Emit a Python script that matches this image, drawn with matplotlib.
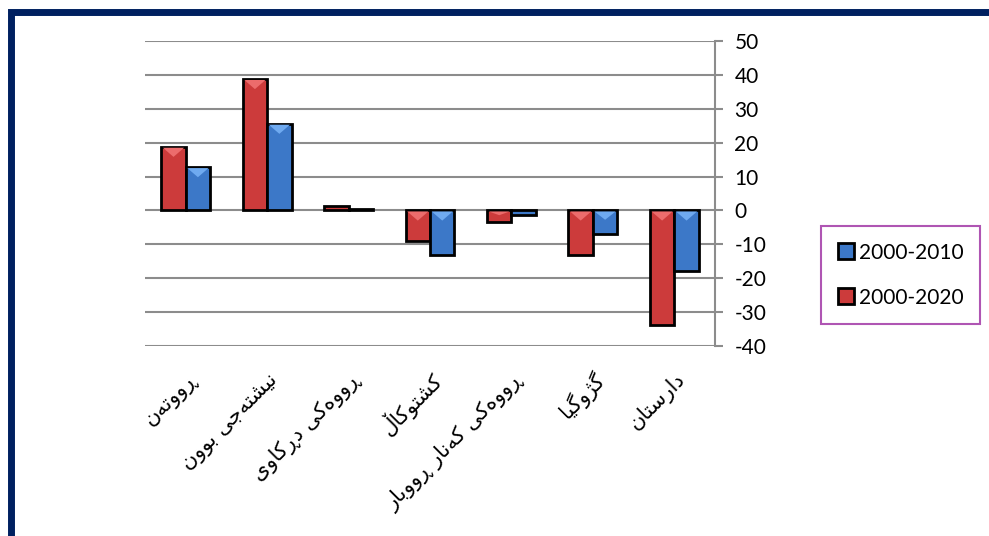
import matplotlib
matplotlib.use("Agg")
import matplotlib.pyplot as plt
import numpy as np
from matplotlib import font_manager
from matplotlib.ft2font import FT2Font
from matplotlib.patches import Rectangle, Polygon
from matplotlib.transforms import ScaledTranslation

# land cover classes (Sorani Kurdish), in chart order
categories = ["ڕووتەن", "نیشتەجێ بوون", "ڕووەکی دڕکاوی", "کشتوکاڵ",
              "ڕووەکی کەنار ڕووبار", "گژوگیا", "دارستان"]
change_2000_2020 = [18.8, 38.8, 1.4, -9.1, -3.5, -13.2, -33.7]
change_2000_2010 = [12.8, 25.6, 0.5, -13.1, -1.3, -6.9, -17.9]
series_names = ["2000-2010", "2000-2020"]
y_ticks = [50, 40, 30, 20, 10, 0, -10, -20, -30, -40]

# matplotlib does no arabic shaping, so pick the joined forms by hand
FORMS = {
    '\u0627': ('\uFE8D', '\uFE8E', None, None),
    '\u0628': ('\uFE8F', '\uFE90', '\uFE91', '\uFE92'),
    '\u062A': ('\uFE95', '\uFE96', '\uFE97', '\uFE98'),
    '\u062C': ('\uFE9D', '\uFE9E', '\uFE9F', '\uFEA0'),
    '\u062F': ('\uFEA9', '\uFEAA', None, None),
    '\u0631': ('\uFEAD', '\uFEAE', None, None),
    '\u0633': ('\uFEB1', '\uFEB2', '\uFEB3', '\uFEB4'),
    '\u0634': ('\uFEB5', '\uFEB6', '\uFEB7', '\uFEB8'),
    '\u0646': ('\uFEE5', '\uFEE6', '\uFEE7', '\uFEE8'),
    '\u0648': ('\uFEED', '\uFEEE', None, None),
    '\u0695': ('\u0695', '\u0695', None, None),
    '\u0698': ('\uFB8A', '\uFB8B', None, None),
    '\u06A9': ('\uFB8E', '\uFB8F', '\uFB90', '\uFB91'),
    '\u06AF': ('\uFB92', '\uFB93', '\uFB94', '\uFB95'),
    '\u06B5': ('\u06B5', '\u06B5', '\u06B5', '\u06B5'),
    '\u06CC': ('\uFBFC', '\uFBFD', '\uFBFE', '\uFBFF'),
    '\u06CE': ('\u06CE', '\uFBFD', '\uFBFE', '\uFBFF'),
    '\u06D5': ('\u06D5', '\uFEEA', None, None),
}

arabic_font = font_manager.findfont("DejaVu Sans")
ft = FT2Font(arabic_font)


def has_glyph(ch):
    return ft.get_char_index(ord(ch)) != 0


def shape(text):
    out = []
    n = len(text)
    for i, c in enumerate(text):
        if c not in FORMS:
            out.append(c)
            continue
        prev = text[i - 1] if i > 0 else ' '
        nxt = text[i + 1] if i < n - 1 else ' '
        join_prev = prev in FORMS and FORMS[prev][2] is not None
        join_next = FORMS[c][2] is not None and nxt in FORMS
        iso, fin, ini, med = FORMS[c]
        if join_prev and join_next:
            g = med
        elif join_prev:
            g = fin
        elif join_next:
            g = ini
        else:
            g = iso
        if not has_glyph(g):
            g = c
        out.append(g)
    return ''.join(reversed(out))


plt.rcParams['font.family'] = ['Lato', 'DejaVu Sans']
plt.rcParams['axes.unicode_minus'] = False

fig = plt.figure(figsize=(9.89, 5.36), dpi=100)
ax = fig.add_axes([0.1466, 0.3545, 0.5764, 0.569])

x = np.arange(len(categories))
w = 0.3
b20 = ax.bar(x - w / 2, change_2000_2020, w, color='#CC3B3B', edgecolor='black',
             linewidth=2, zorder=3, label=series_names[1])
b10 = ax.bar(x + w / 2, change_2000_2010, w, color='#3C78C8', edgecolor='black',
             linewidth=2, zorder=3, label=series_names[0])

# small light bevel at the top of each bar, like the office style
for bars, light in [(b20, '#EC6C6C'), (b10, '#6FAAF0')]:
    for r in bars:
        h = abs(r.get_height())
        if h < 2:
            continue
        top = max(r.get_y(), r.get_y() + r.get_height())
        x0, bw = r.get_x(), r.get_width()
        tri = Polygon([(x0 + 0.02, top - 0.3), (x0 + bw - 0.02, top - 0.3),
                       (x0 + bw / 2, top - min(3.0, h * 0.4))],
                      closed=True, facecolor=light, edgecolor='none', zorder=4)
        ax.add_patch(tri)

ax.set_xlim(-0.5, len(categories) - 0.5)
ax.set_ylim(-40, 50)
ax.set_yticks(y_ticks)
ax.yaxis.tick_right()
ax.tick_params(axis='y', direction='out', length=6, width=1.5, color='#8c8c8c',
               labelsize=15, pad=8)
ax.grid(axis='y', color='#8c8c8c', linewidth=1.5, zorder=0)

for s in ['top', 'left', 'bottom']:
    ax.spines[s].set_visible(False)
ax.spines['right'].set_color('#8c8c8c')
ax.spines['right'].set_linewidth(1.5)

ax.set_xticks(x)
ax.set_xticklabels([shape(c) for c in categories], rotation=45, ha='right',
                   va='center', rotation_mode='anchor', fontsize=15,
                   family='DejaVu Sans')
ax.tick_params(axis='x', length=0, pad=22)
for lab in ax.get_xticklabels():
    lab.set_transform(lab.get_transform() + ScaledTranslation(0.08, 0, fig.dpi_scale_trans))

leg = fig.legend([b10, b20], series_names, loc='upper left',
                 bbox_to_anchor=(821 / 989, 1 - 226 / 536), borderaxespad=0,
                 frameon=True, fancybox=False, edgecolor='#9b2aa0', fontsize=15,
                 handlelength=0.8, handleheight=0.8, handletextpad=0.2,
                 labelspacing=1.2, borderpad=0.8)
leg.get_frame().set_linewidth(1.5)

# navy frame around the chart area
frame = Rectangle((11 / 989, -1.5 / 536), 1.0, 1 - 10 / 536, transform=fig.transFigure,
                  fill=False, edgecolor='#002060', linewidth=5, clip_on=False)
fig.patches.append(frame)

fig.savefig('out.png', dpi=100)
